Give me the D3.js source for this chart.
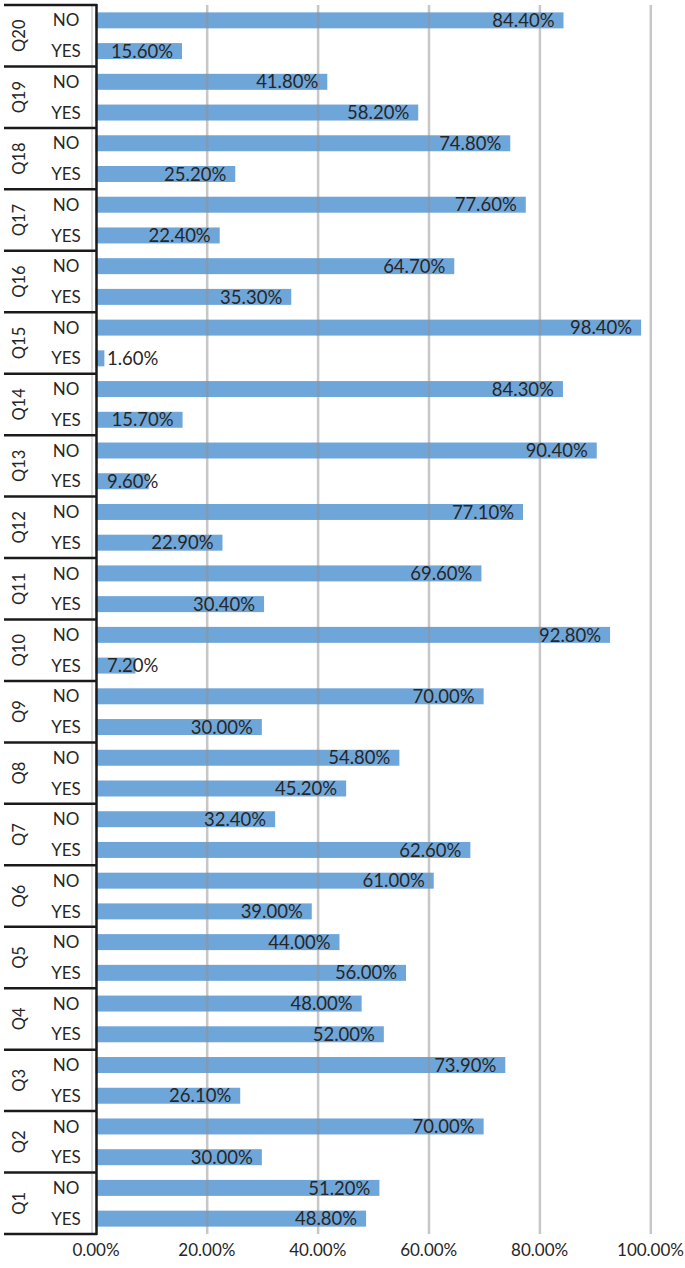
<!DOCTYPE html>
<html>
<head>
<meta charset="utf-8">
<script src="https://cdn.jsdelivr.net/npm/d3@7/dist/d3.min.js"></script>
<style>
  body { margin: 0; background: #fff; }
  svg text { font-family: Lato, "Open Sans", sans-serif; font-weight: 400; fill: #262626; }
</style>
</head>
<body>
<svg id="chart" width="685" height="1268"></svg>
<script>
// questions top to bottom
const questions = ["Q20","Q19","Q18","Q17","Q16","Q15","Q14","Q13","Q12","Q11",
                   "Q10","Q9","Q8","Q7","Q6","Q5","Q4","Q3","Q2","Q1"];
const answers = ["NO", "YES"];
const noValues  = [84.4, 41.8, 74.8, 77.6, 64.7, 98.4, 84.3, 90.4, 77.1, 69.6,
                   92.8, 70.0, 54.8, 32.4, 61.0, 44.0, 48.0, 73.9, 70.0, 51.2];
const yesValues = [15.6, 58.2, 25.2, 22.4, 35.3, 1.6, 15.7, 9.6, 22.9, 30.4,
                   7.2, 30.0, 45.2, 67.6, 39.0, 56.0, 52.0, 26.1, 30.0, 48.8];
// labels as printed (Q7 YES label differs from its bar length)
const noLabels  = ["84.40%","41.80%","74.80%","77.60%","64.70%","98.40%","84.30%","90.40%","77.10%","69.60%",
                   "92.80%","70.00%","54.80%","32.40%","61.00%","44.00%","48.00%","73.90%","70.00%","51.20%"];
const yesLabels = ["15.60%","58.20%","25.20%","22.40%","35.30%","1.60%","15.70%","9.60%","22.90%","30.40%",
                   "7.20%","30.00%","45.20%","62.60%","39.00%","56.00%","52.00%","26.10%","30.00%","48.80%"];
const xTicks = [0, 20, 40, 60, 80, 100];

const rows = [];
questions.forEach((q, i) => {
    rows.push({q: q, a: "NO", v: noValues[i], label: noLabels[i]});
    rows.push({q: q, a: "YES", v: yesValues[i], label: yesLabels[i]});
});

const svg = d3.select("#chart");
const plotTop = 5, plotBottom = 1234, plotLeft = 95.5, plotRight = 650;

const x = d3.scaleLinear().domain([0, 100]).range([plotLeft, plotRight]);
const yGroup = d3.scaleBand().domain(questions).range([plotTop, plotBottom]).padding(0);
const yInner = d3.scaleBand().domain(answers).range([0, yGroup.bandwidth()])
    .paddingInner(0.48).paddingOuter(0.24);

// bars
svg.append("g").selectAll("rect").data(rows).enter().append("rect")
    .attr("x", x(0))
    .attr("y", d => yGroup(d.q) + yInner(d.a))
    .attr("width", d => x(d.v) - x(0))
    .attr("height", yInner.bandwidth())
    .attr("fill", "#6fa6da");

// gridlines on top of bars
svg.append("g").selectAll("line").data(xTicks.slice(1)).enter().append("line")
    .attr("x1", d => x(d) + 0.8).attr("x2", d => x(d) + 0.8)
    .attr("y1", plotTop).attr("y2", plotBottom)
    .attr("stroke", "#8f8f8f").attr("stroke-opacity", 0.5).attr("stroke-width", 2.5);

// value labels
const lbl = svg.append("g").selectAll("text").data(rows).enter().append("text")
    .attr("y", d => yGroup(d.q) + yInner(d.a) + yInner.bandwidth() / 2)
    .attr("dy", "0.36em")
    .attr("font-size", "18.5px")
    .attr("text-anchor", "end")
    .text(d => d.label);
lbl.attr("x", function (d) {
    const w = this.getComputedTextLength();
    return Math.max(x(d.v) - 9, 107 + w);
});

// left category frame
const frame = svg.append("g");
frame.append("line")
    .attr("x1", 96.5).attr("x2", 96.5).attr("y1", plotTop - 1).attr("y2", plotBottom + 1)
    .attr("stroke", "#1a1a1a").attr("stroke-width", 2.5);
frame.append("line")
    .attr("x1", 92).attr("x2", 92).attr("y1", plotTop).attr("y2", plotBottom)
    .attr("stroke", "#b5b5b5").attr("stroke-width", 1);
const seps = questions.map(q => yGroup(q)).concat([plotBottom]);
frame.selectAll("line.sep").data(seps).enter().append("line")
    .attr("class", "sep")
    .attr("x1", 4).attr("x2", 97)
    .attr("y1", d => d).attr("y2", d => d)
    .attr("stroke", "#1a1a1a").attr("stroke-width", 2.5);

// answer labels
svg.append("g").selectAll("text").data(rows).enter().append("text")
    .attr("x", 66)
    .attr("y", d => yGroup(d.q) + yInner(d.a) + yInner.bandwidth() / 2)
    .attr("dy", "0.36em")
    .attr("text-anchor", "middle")
    .attr("font-size", "17px")
    .text(d => d.a);

// question labels, rotated
svg.append("g").selectAll("text").data(questions).enter().append("text")
    .attr("transform", d => "translate(19.5," + (yGroup(d) + yGroup.bandwidth() / 2) + ") rotate(-90)")
    .attr("dy", "0.36em")
    .attr("text-anchor", "middle")
    .attr("font-size", "16.5px")
    .text(d => d);

// x axis
const xAxis = svg.append("g")
    .attr("transform", "translate(0," + plotBottom + ")")
    .call(d3.axisBottom(x).tickValues(xTicks).tickSize(0).tickPadding(10)
        .tickFormat(d => d.toFixed(2) + "%"));
xAxis.select(".domain").remove();
xAxis.selectAll("text")
    .attr("font-size", "17px")
    .attr("font-family", "Lato, sans-serif")
    .attr("fill", "#262626");
</script>
</body>
</html>
